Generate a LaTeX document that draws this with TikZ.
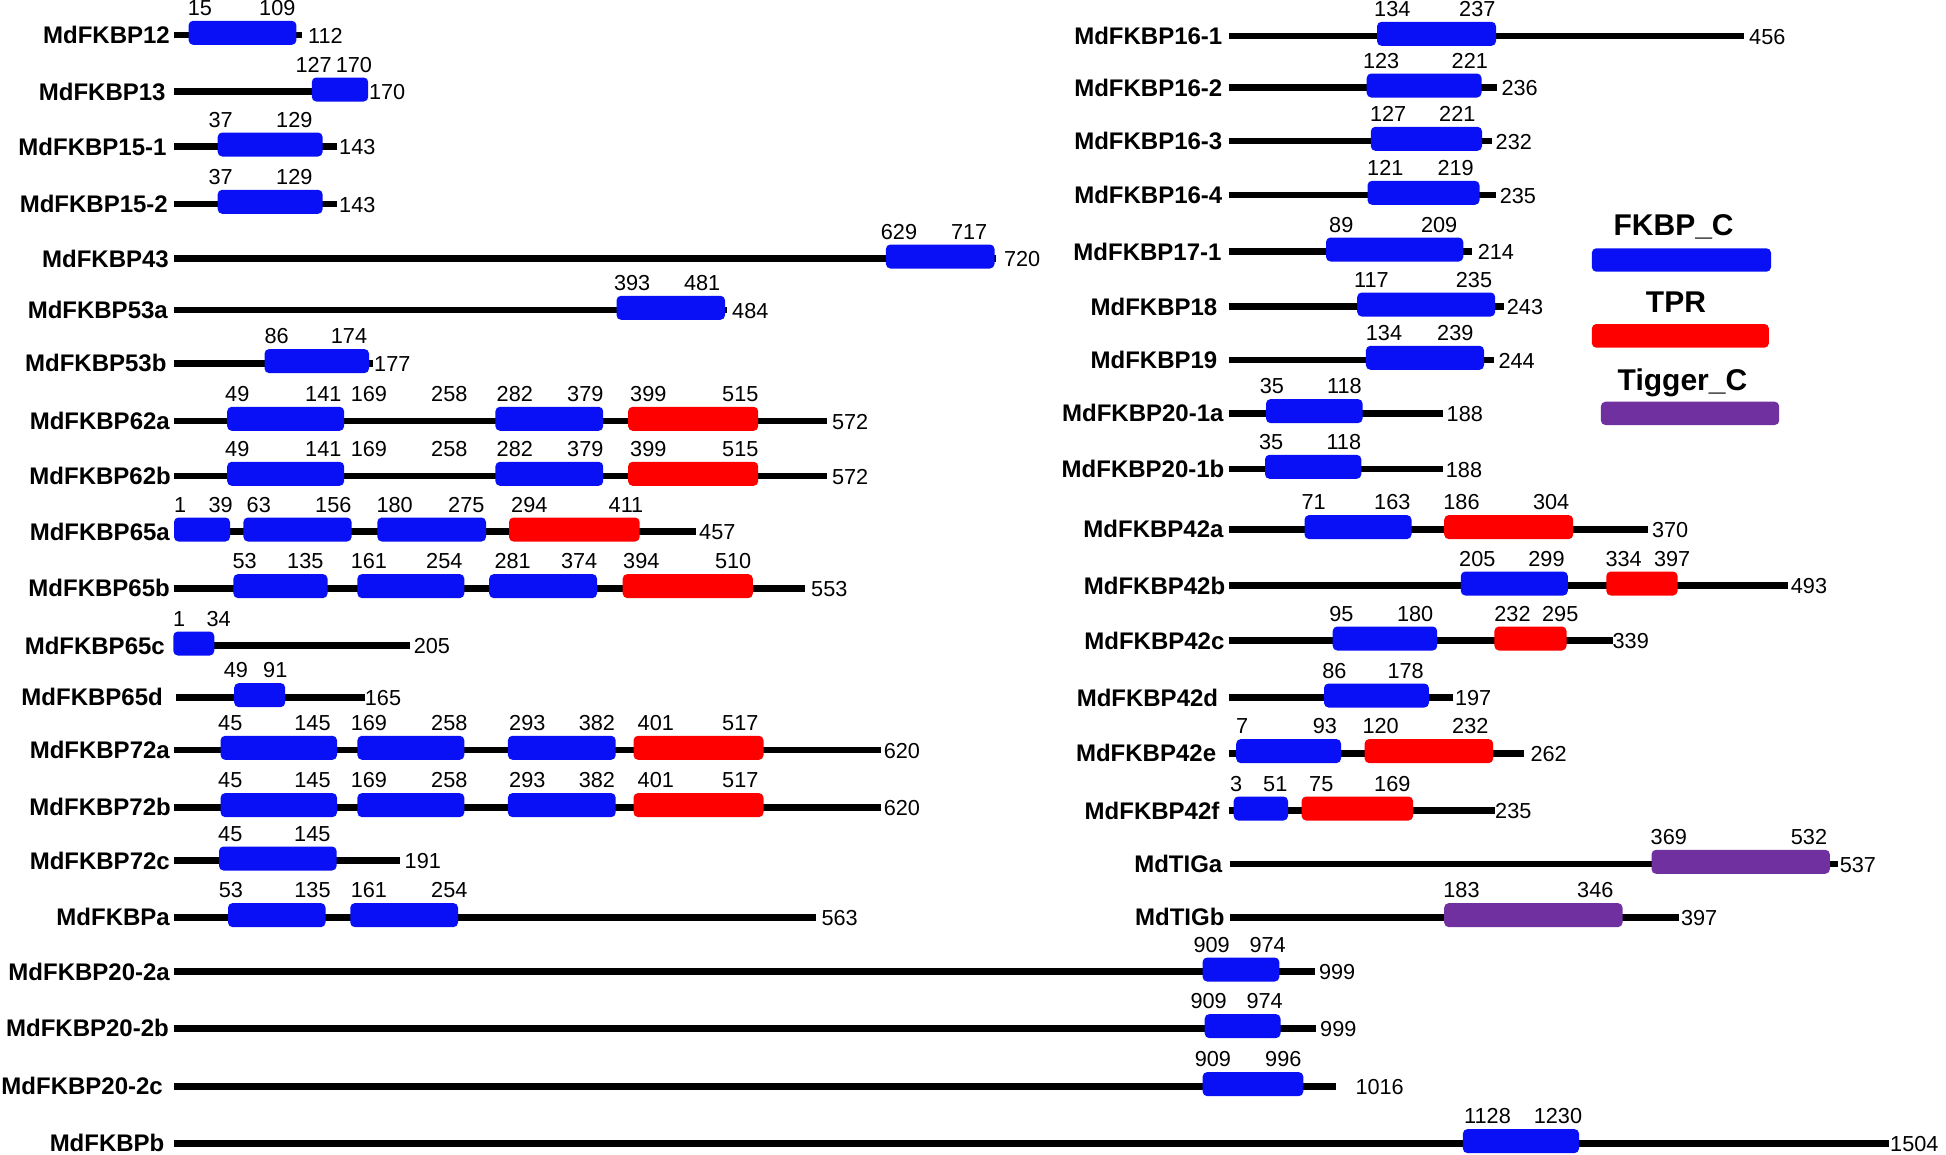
\documentclass[tikz,border=0pt]{standalone}
\usepackage{fontspec}
\setmainfont{Liberation Sans}
\definecolor{fkblue}{RGB}{10,16,245}
\definecolor{tprred}{RGB}{255,0,0}
\definecolor{tigpurple}{RGB}{112,48,160}
\tikzset{
  pname/.style={font=\bfseries\fontsize{24}{28}\selectfont, anchor=east, inner sep=0pt},
  numl/.style={font=\fontsize{21.7}{26}\selectfont, anchor=base west, inner sep=0pt, xshift=-1pt},
  leg/.style={font=\bfseries\fontsize{30}{34}\selectfont, anchor=base west, inner sep=0pt},
  ln/.style={line width=6.5pt, black},
  fk/.style={fill=fkblue, rounded corners=4.5pt},
  tp/.style={fill=tprred, rounded corners=4.5pt},
  tg/.style={fill=tigpurple, rounded corners=4.5pt},
}
% id, name x end, y, line x start, line x end, text
\newcommand\protrow[6]{%
  \node[pname] (#1) at (#2,#3) {#6};
  \coordinate (#1a) at (#4,#3);
  \coordinate (#1b) at (#5,#3);
  \draw[ln] (#1a) -- (#1b);}
% style, x1, x2, y
\newcommand\dombox[4]{\fill[#1] (#2,#4-14.2) rectangle (#3,#4+9.8);}
% id, x, y(line), text
\newcommand\numup[4]{\node[numl] (#1) at (#2,#3-19.5) {#4};}
\newcommand\numend[4]{\node[numl] (#1) at (#2,#3+8) {#4};}
\begin{document}
\begin{tikzpicture}[x=1pt,y=-1pt]
\fill[white] (0,0) rectangle (1946,1154);
\useasboundingbox (0,0) rectangle (1946,1154);

% ---------------- left column ----------------
\protrow{L1}{170}{35}{174}{301.8}{MdFKBP12}
\dombox{fk}{188.6}{296.4}{35}
\numup{L1u1}{188.6}{35}{15}\numup{L1u2}{260}{35}{109}\numend{L1e}{309}{35}{112}

\protrow{L2}{165.8}{91.7}{174}{368}{MdFKBP13}
\dombox{fk}{311.8}{368.2}{91.7}
\numup{L2u1}{296.4}{91.7}{127}\numup{L2u2}{336.6}{91.7}{170}\numend{L2e}{369.8}{91.7}{170}

\protrow{L3}{166.7}{146.7}{174}{336.6}{MdFKBP15-1}
\dombox{fk}{217.7}{322.6}{146.7}
\numup{L3u1}{209.4}{146.7}{37}\numup{L3u2}{277}{146.7}{129}\numend{L3e}{340}{146.7}{143}

\protrow{L4}{168}{204}{174}{336.6}{MdFKBP15-2}
\dombox{fk}{217.7}{322.6}{204}
\numup{L4u1}{209.4}{204}{37}\numup{L4u2}{277}{204}{129}\numend{L4e}{340}{204}{143}

\protrow{L5}{169}{258.7}{174}{995.7}{MdFKBP43}
\dombox{fk}{885.9}{994.5}{258.7}
\numup{L5u1}{881.7}{258.7}{629}\numup{L5u2}{951.8}{258.7}{717}\numend{L5e}{1004.8}{258.7}{720}

\protrow{L6}{168}{310}{174}{727}{MdFKBP53a}
\dombox{fk}{616.5}{725}{310}
\numup{L6u1}{614.8}{310}{393}\numup{L6u2}{684.8}{310}{481}\numend{L6e}{733}{310}{484}

\protrow{L7}{166.7}{363.3}{174}{373}{MdFKBP53b}
\dombox{fk}{264.5}{369}{363.3}
\numup{L7u1}{265.3}{363.3}{86}\numup{L7u2}{331.7}{363.3}{174}\numend{L7e}{375}{363.3}{177}

\protrow{L8}{170}{421}{174}{827.4}{MdFKBP62a}
\dombox{fk}{227.2}{344.1}{421}\dombox{fk}{495.4}{603.2}{421}\dombox{tp}{628.1}{758.2}{421}
\numup{L8u1}{226}{421}{49}\numup{L8u2}{306}{421}{141}\numup{L8u3}{351.6}{421}{169}\numup{L8u4}{432}{421}{258}
\numup{L8u5}{497.5}{421}{282}\numup{L8u6}{568}{421}{379}\numup{L8u7}{631}{421}{399}\numup{L8u8}{723}{421}{515}
\numend{L8e}{832.8}{421}{572}

\protrow{L9}{171}{476}{174}{827.4}{MdFKBP62b}
\dombox{fk}{227.2}{344.1}{476}\dombox{fk}{495.4}{603.2}{476}\dombox{tp}{628.1}{758.2}{476}
\numup{L9u1}{226}{476}{49}\numup{L9u2}{306}{476}{141}\numup{L9u3}{351.6}{476}{169}\numup{L9u4}{432}{476}{258}
\numup{L9u5}{497.5}{476}{282}\numup{L9u6}{568}{476}{379}\numup{L9u7}{631}{476}{399}\numup{L9u8}{723}{476}{515}
\numend{L9e}{832.8}{476}{572}

\protrow{L10}{170}{531.7}{174}{696}{MdFKBP65a}
\dombox{fk}{174}{230}{531.7}\dombox{fk}{243.4}{351.6}{531.7}\dombox{fk}{377.3}{486}{531.7}\dombox{tp}{509}{639.7}{531.7}
\numup{L10u1}{175}{531.7}{1}\numup{L10u2}{209.4}{531.7}{39}\numup{L10u3}{247.5}{531.7}{63}\numup{L10u4}{316}{531.7}{156}
\numup{L10u5}{377.3}{531.7}{180}\numup{L10u6}{449}{531.7}{275}\numup{L10u7}{512}{531.7}{294}\numup{L10u8}{609.5}{531.7}{411}
\numend{L10e}{700}{531.7}{457}

\protrow{L11}{170}{588.3}{174}{805}{MdFKBP65b}
\dombox{fk}{233.4}{327.5}{588.3}\dombox{fk}{357.4}{464.3}{588.3}\dombox{fk}{489.2}{597}{588.3}\dombox{tp}{622.7}{752.8}{588.3}
\numup{L11u1}{233.4}{588.3}{53}\numup{L11u2}{288}{588.3}{135}\numup{L11u3}{351.6}{588.3}{161}\numup{L11u4}{427}{588.3}{254}
\numup{L11u5}{495.4}{588.3}{281}\numup{L11u6}{561.8}{588.3}{374}\numup{L11u7}{624}{588.3}{394}\numup{L11u8}{715.9}{588.3}{510}
\numend{L11e}{812}{588.3}{553}

\protrow{L12}{165}{645.7}{174}{409.6}{MdFKBP65c}
\dombox{fk}{173.3}{214.3}{645.7}
\numup{L12u1}{174}{645.7}{1}\numup{L12u2}{207.3}{645.7}{34}\numend{L12e}{414.6}{645.7}{205}

\protrow{L13}{163}{697.3}{176.2}{364.8}{MdFKBP65d}
\dombox{fk}{234.2}{285.2}{697.3}
\numup{L13u1}{224.7}{697.3}{49}\numup{L13u2}{264}{697.3}{91}\numend{L13e}{365.7}{697.3}{165}

\protrow{L14}{170}{750}{174}{881.3}{MdFKBP72a}
\dombox{fk}{220.6}{337}{750}\dombox{fk}{357.4}{464.3}{750}\dombox{fk}{507.9}{615.7}{750}\dombox{tp}{633.5}{763.5}{750}
\numup{L14u1}{219}{750}{45}\numup{L14u2}{295.2}{750}{145}\numup{L14u3}{351.6}{750}{169}\numup{L14u4}{432}{750}{258}
\numup{L14u5}{510}{750}{293}\numup{L14u6}{579.6}{750}{382}\numup{L14u7}{638.5}{750}{401}\numup{L14u8}{723}{750}{517}
\numend{L14e}{884.6}{750}{620}

\protrow{L15}{171}{807.3}{174}{881.3}{MdFKBP72b}
\dombox{fk}{220.6}{337}{807.3}\dombox{fk}{357.4}{464.3}{807.3}\dombox{fk}{507.9}{615.7}{807.3}\dombox{tp}{633.5}{763.5}{807.3}
\numup{L15u1}{219}{807.3}{45}\numup{L15u2}{295.2}{807.3}{145}\numup{L15u3}{351.6}{807.3}{169}\numup{L15u4}{432}{807.3}{258}
\numup{L15u5}{510}{807.3}{293}\numup{L15u6}{579.6}{807.3}{382}\numup{L15u7}{638.5}{807.3}{401}\numup{L15u8}{723}{807.3}{517}
\numend{L15e}{884.6}{807.3}{620}

\protrow{L16}{170}{860.7}{174}{400}{MdFKBP72c}
\dombox{fk}{219}{336.6}{860.7}
\numup{L16u1}{219}{860.7}{45}\numup{L16u2}{295}{860.7}{145}\numend{L16e}{405.5}{860.7}{191}

\protrow{L17}{170}{917.3}{174}{816.2}{MdFKBPa}
\dombox{fk}{228}{325.5}{917.3}\dombox{fk}{350.3}{458}{917.3}
\numup{L17u1}{219.7}{917.3}{53}\numup{L17u2}{295.2}{917.3}{135}\numup{L17u3}{351.6}{917.3}{161}\numup{L17u4}{432}{917.3}{254}
\numend{L17e}{822.4}{917.3}{563}

\protrow{L18}{170}{971.7}{174}{1314.9}{MdFKBP20-2a}
\dombox{fk}{1202.6}{1279.3}{971.7}
\numup{L18u1}{1194.3}{971.7}{909}\numup{L18u2}{1250.3}{971.7}{974}\numend{L18e}{1319.9}{971.7}{999}

\protrow{L19}{169}{1028.3}{174}{1315.7}{MdFKBP20-2b}
\dombox{fk}{1204.7}{1280.5}{1028.3}
\numup{L19u1}{1191.4}{1028.3}{909}\numup{L19u2}{1247.4}{1028.3}{974}\numend{L19e}{1321}{1028.3}{999}

\protrow{L20}{163}{1086.3}{174}{1335.6}{MdFKBP20-2c}
\dombox{fk}{1202.6}{1303.3}{1086.3}
\numup{L20u1}{1195.6}{1086.3}{909}\numup{L20u2}{1266}{1086.3}{996}\numend{L20e}{1356.3}{1086.3}{1016}

\protrow{L21}{164.6}{1143.3}{174}{1889}{MdFKBPb}
\dombox{fk}{1462.9}{1579}{1143.3}
\numup{L21u1}{1465}{1143.3}{1128}\numup{L21u2}{1534.6}{1143.3}{1230}\numend{L21e}{1891}{1143.3}{1504}

% ---------------- right column ----------------
\protrow{R1}{1222.5}{36}{1228.5}{1744}{MdFKBP16-1}
\dombox{fk}{1377}{1496}{36}
\numup{R1u1}{1375}{36}{134}\numup{R1u2}{1460}{36}{237}\numend{R1e}{1750}{36}{456}

\protrow{R2}{1222.5}{87.7}{1228.5}{1496.5}{MdFKBP16-2}
\dombox{fk}{1366.7}{1481.5}{87.7}
\numup{R2u1}{1363.8}{87.7}{123}\numup{R2u2}{1452.5}{87.7}{221}\numend{R2e}{1502.3}{87.7}{236}

\protrow{R3}{1222.5}{141}{1228.5}{1492.3}{MdFKBP16-3}
\dombox{fk}{1370.8}{1482}{141}
\numup{R3u1}{1370.8}{141}{127}\numup{R3u2}{1440}{141}{221}\numend{R3e}{1496.5}{141}{232}

\protrow{R4}{1222.5}{195}{1228.5}{1496}{MdFKBP16-4}
\dombox{fk}{1367.5}{1479.5}{195}
\numup{R4u1}{1368}{195}{121}\numup{R4u2}{1438.4}{195}{219}\numend{R4e}{1500.6}{195}{235}

\protrow{R5}{1221.7}{251.7}{1228.5}{1471.6}{MdFKBP17-1}
\dombox{fk}{1326}{1463.3}{251.7}
\numup{R5u1}{1330}{251.7}{89}\numup{R5u2}{1421.8}{251.7}{209}\numend{R5e}{1478.6}{251.7}{214}

\protrow{R6}{1217.5}{306.7}{1228.5}{1503.5}{MdFKBP18}
\dombox{fk}{1357.2}{1495.2}{306.7}
\numup{R6u1}{1355}{306.7}{117}\numup{R6u2}{1456.7}{306.7}{235}\numend{R6e}{1507.7}{306.7}{243}

\protrow{R7}{1217.5}{360}{1228.5}{1494}{MdFKBP19}
\dombox{fk}{1365.9}{1484}{360}
\numup{R7u1}{1366.7}{360}{134}\numup{R7u2}{1438}{360}{239}\numend{R7e}{1499.4}{360}{244}

\protrow{R8}{1223.7}{413.3}{1228.5}{1442.6}{MdFKBP20-1a}
\dombox{fk}{1266}{1362.6}{413.3}
\numup{R8u1}{1260.6}{413.3}{35}\numup{R8u2}{1328}{413.3}{118}\numend{R8e}{1447.5}{413.3}{188}

\protrow{R9}{1224.6}{469}{1228.5}{1442.6}{MdFKBP20-1b}
\dombox{fk}{1265}{1361.3}{469}
\numup{R9u1}{1259.8}{469}{35}\numup{R9u2}{1327.3}{469}{118}\numend{R9e}{1446.7}{469}{188}

\protrow{R10}{1223.7}{529.3}{1228.5}{1647.8}{MdFKBP42a}
\dombox{fk}{1304.5}{1411.5}{529.3}\dombox{tp}{1444.2}{1573.2}{529.3}
\numup{R10u1}{1302.4}{529.3}{71}\numup{R10u2}{1375}{529.3}{163}\numup{R10u3}{1444.2}{529.3}{186}\numup{R10u4}{1533.8}{529.3}{304}
\numend{R10e}{1652.8}{529.3}{370}

\protrow{R11}{1225.4}{585.7}{1228.5}{1787.5}{MdFKBP42b}
\dombox{fk}{1460.8}{1567.8}{585.7}\dombox{tp}{1606.3}{1677.6}{585.7}
\numup{R11u1}{1460}{585.7}{205}\numup{R11u2}{1529.2}{585.7}{299}\numup{R11u3}{1606.3}{585.7}{334}\numup{R11u4}{1654.8}{585.7}{397}
\numend{R11e}{1791.7}{585.7}{493}

\protrow{R12}{1224.6}{640.7}{1228.5}{1612.6}{MdFKBP42c}
\dombox{fk}{1332.7}{1437.2}{640.7}\dombox{tp}{1494.4}{1566.5}{640.7}
\numup{R12u1}{1330.2}{640.7}{95}\numup{R12u2}{1397.8}{640.7}{180}\numup{R12u3}{1495.2}{640.7}{232}\numup{R12u4}{1542.9}{640.7}{295}
\numend{R12e}{1613.4}{640.7}{339}

\protrow{R13}{1218.3}{697.7}{1228.5}{1452.5}{MdFKBP42d}
\dombox{fk}{1324}{1428.9}{697.7}
\numup{R13u1}{1323.2}{697.7}{86}\numup{R13u2}{1388.3}{697.7}{178}\numend{R13e}{1455.8}{697.7}{197}

\protrow{R14}{1216.3}{753.3}{1228.5}{1524.2}{MdFKBP42e}
\dombox{fk}{1236.2}{1341}{753.3}\dombox{tp}{1364.6}{1493.2}{753.3}
\numup{R14u1}{1237}{753.3}{7}\numup{R14u2}{1313.6}{753.3}{93}\numup{R14u3}{1363.4}{753.3}{120}\numup{R14u4}{1453}{753.3}{232}
\numend{R14e}{1531.3}{753.3}{262}

\protrow{R15}{1219.6}{810.7}{1228.5}{1495.2}{MdFKBP42f}
\dombox{fk}{1233.7}{1288}{810.7}\dombox{tp}{1301.6}{1413.1}{810.7}
\numup{R15u1}{1230.8}{810.7}{3}\numup{R15u2}{1264}{810.7}{51}\numup{R15u3}{1310}{810.7}{75}\numup{R15u4}{1375}{810.7}{169}
\numend{R15e}{1496}{810.7}{235}

\protrow{R16}{1222.5}{864}{1229.6}{1838}{MdTIGa}
\dombox{tg}{1651.5}{1829.8}{864}
\numup{R16u1}{1651.5}{864}{369}\numup{R16u2}{1791.7}{864}{532}\numend{R16e}{1840.6}{864}{537}

\protrow{R17}{1224.6}{917.3}{1229.6}{1678.9}{MdTIGb}
\dombox{tg}{1444.2}{1622.5}{917.3}
\numup{R17u1}{1444.2}{917.3}{183}\numup{R17u2}{1578}{917.3}{346}\numend{R17e}{1681.8}{917.3}{397}

% ---------------- legend ----------------
\node[leg] (lgf) at (1613.4,235) {FKBP\_C};
\fill[fk] (1591.8,248.3) rectangle (1771,271.7);
\node[leg] (lgt) at (1645.7,312.3) {TPR};
\fill[tp] (1591.8,324) rectangle (1768.9,347.7);
\node[leg] (lgg) at (1617.5,390) {Tigger\_C};
\fill[tg] (1600.9,401.7) rectangle (1779.2,425);
\end{tikzpicture}
\end{document}
